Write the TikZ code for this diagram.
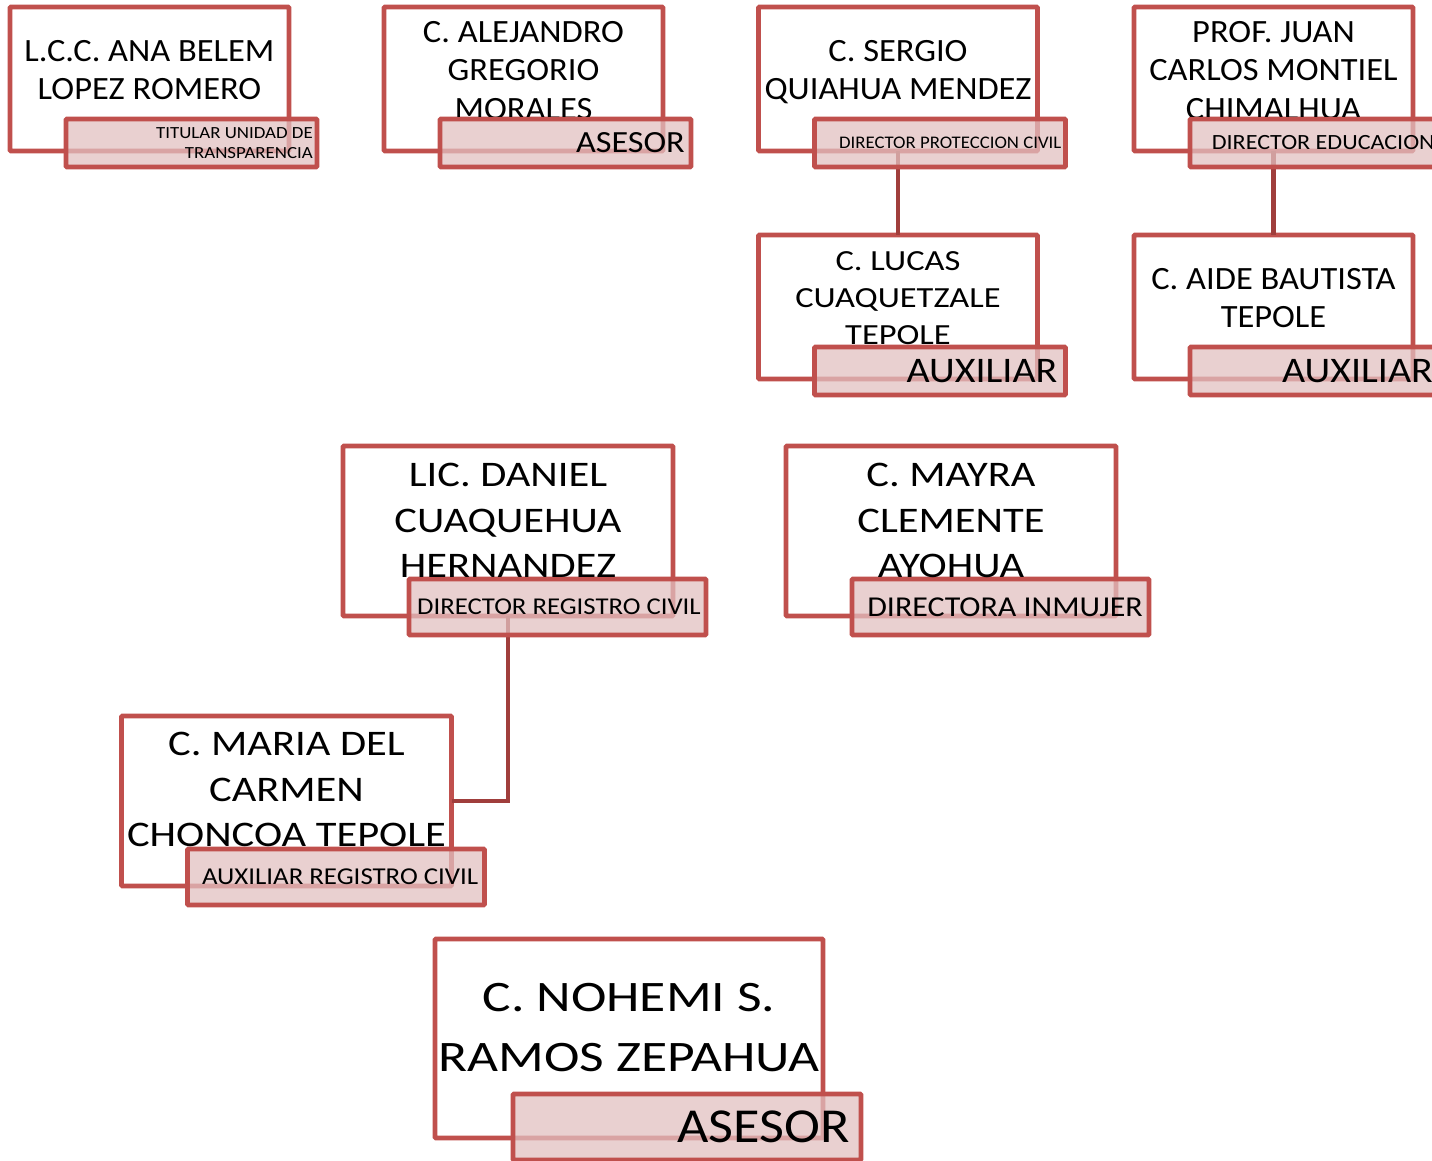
\documentclass[tikz,border=0pt]{standalone}
\usepackage{fontspec}
\setmainfont{Carlito}
\newfontfamily\wideA[FakeStretch=1.06]{Carlito}
\newfontfamily\wideB[FakeStretch=1.11]{Carlito}
\newfontfamily\wideC[FakeStretch=1.18]{Carlito}
\newfontfamily\wideD[FakeStretch=1.23]{Carlito}
\usetikzlibrary{positioning}

\definecolor{boxred}{RGB}{192,80,77}
\definecolor{linered}{RGB}{160,62,60}
\definecolor{tagfill}{RGB}{226,192,192}

\begin{document}
\begin{tikzpicture}[
    x=1pt, y=-1pt,
    box/.style={rectangle, draw=boxred, line width=4.8pt, rounded corners=1pt,
                outer sep=0pt},
    topbox/.style={box, minimum width=279pt, minimum height=144pt},
    midbox/.style={box, minimum width=330pt, minimum height=170pt},
    bigbox/.style={box, minimum width=388pt, minimum height=199pt},
    tag/.style={rectangle, draw=boxred, line width=4.8pt, rounded corners=1pt,
                fill=tagfill, fill opacity=0.75, inner sep=0pt, outer sep=0pt,
                anchor=south west},
    toptag/.style={tag, minimum width=251pt, minimum height=48pt},
    midtag/.style={tag, minimum width=297pt, minimum height=56pt},
    bigtag/.style={tag, minimum width=348pt, minimum height=66pt},
    tagtext/.style={anchor=east, inner sep=0pt, align=right},
    person/.style={anchor=north, inner sep=0pt, align=center},
    topperson/.style={person, font=\wideA\fontsize{32.5}{38.5}\selectfont},
    midperson/.style={person, font=\wideC\fontsize{36}{45.7}\selectfont},
    link/.style={draw=linered, line width=4.5pt},
  ]
  \useasboundingbox (0,0) rectangle (1432,1161);

  % Boxes
  \node[topbox] (b1) at (149.5,79) {};
  \node[topbox] (b2) at (523.5,79) {};
  \node[topbox] (b3) at (898,79) {};
  \node[topbox] (b4) at (1273.5,79) {};
  \node[topbox] (b5) at (898,307) {};
  \node[topbox] (b6) at (1273.5,307) {};
  \node[midbox] (b7) at (508,531) {};
  \node[midbox] (b8) at (951,531) {};
  \node[midbox] (b9) at (286.5,801) {};
  \node[bigbox] (b10) at (629,1038.5) {};

  % Links
  \draw[link] (b3.south) -- (b5.north);
  \draw[link] (b4.south) -- (b6.north);
  \draw[link] (b7.south) |- (b9.east);

  % Position tags
  \node[toptag] (t1) at ([xshift=56pt, yshift=-16pt]b1.south west) {};
  \node[toptag] (t2) at ([xshift=56pt, yshift=-16pt]b2.south west) {};
  \node[toptag] (t3) at ([xshift=56pt, yshift=-16pt]b3.south west) {};
  \node[toptag] (t4) at ([xshift=56pt, yshift=-16pt]b4.south west) {};
  \node[toptag] (t5) at ([xshift=56pt, yshift=-16pt]b5.south west) {};
  \node[toptag] (t6) at ([xshift=56pt, yshift=-16pt]b6.south west) {};
  \node[midtag] (t7) at ([xshift=66pt, yshift=-19pt]b7.south west) {};
  \node[midtag] (t8) at ([xshift=66pt, yshift=-19pt]b8.south west) {};
  \node[midtag] (t9) at ([xshift=66pt, yshift=-19pt]b9.south west) {};
  \node[bigtag] (t10) at ([xshift=78pt, yshift=-22pt]b10.south west) {};

  \node[tagtext, font=\wideB\fontsize{17}{20.5}\selectfont, left=4pt of t1.east] (l1)
    {TITULAR UNIDAD DE\\TRANSPARENCIA};
  \node[tagtext, font=\wideB\fontsize{30.8}{37}\selectfont, left=6pt of t2.east] (l2) {ASESOR};
  \node[tagtext, font=\wideA\fontsize{17.7}{22}\selectfont, left=4pt of t3.east] (l3)
    {DIRECTOR PROTECCION CIVIL};
  \node[tagtext, font=\wideB\fontsize{21.7}{26}\selectfont, left=6pt of t4.east] (l4)
    {DIRECTOR EDUCACION};
  \node[tagtext, font=\wideB\fontsize{36}{43}\selectfont, left=8pt of t5.east] (l5) {AUXILIAR};
  \node[tagtext, font=\wideB\fontsize{36}{43}\selectfont, left=8pt of t6.east] (l6) {AUXILIAR};
  \node[tagtext, font=\wideB\fontsize{24.1}{29}\selectfont, left=5pt of t7.east] (l7)
    {DIRECTOR REGISTRO CIVIL};
  \node[tagtext, font=\wideB\fontsize{28.8}{35}\selectfont, left=6pt of t8.east] (l8)
    {DIRECTORA INMUJER};
  \node[tagtext, font=\wideB\fontsize{24.2}{29}\selectfont, left=6pt of t9.east] (l9)
    {AUXILIAR REGISTRO CIVIL};
  \node[tagtext, font=\wideB\fontsize{48.8}{58}\selectfont, left=11pt of t10.east] (l10) {ASESOR};

  % Names, cut at the top of their tag
  \begin{scope}
    \clip (b1.north west) rectangle ([yshift=2pt]b1.east |- t1.north);
    \node[topperson, below=33pt of b1.north] (n1) {L.C.C. ANA BELEM\\LOPEZ ROMERO};
  \end{scope}
  \begin{scope}
    \clip (b2.north west) rectangle ([yshift=2pt]b2.east |- t2.north);
    \node[topperson, below=14pt of b2.north] (n2) {C. ALEJANDRO\\GREGORIO\\MORALES};
  \end{scope}
  \begin{scope}
    \clip (b3.north west) rectangle ([yshift=2pt]b3.east |- t3.north);
    \node[topperson, below=33pt of b3.north] (n3) {C. SERGIO\\QUIAHUA MENDEZ};
  \end{scope}
  \begin{scope}
    \clip (b4.north west) rectangle ([yshift=2pt]b4.east |- t4.north);
    \node[topperson, below=14pt of b4.north] (n4) {PROF. JUAN\\CARLOS MONTIEL\\CHIMALHUA};
  \end{scope}
  \begin{scope}
    \clip (b5.north west) rectangle ([yshift=2pt]b5.east |- t5.north);
    \node[person, font=\wideC\fontsize{29.2}{37}\selectfont, below=16pt of b5.north] (n5)
      {C. LUCAS\\CUAQUETZALE\\TEPOLE};
  \end{scope}
  \begin{scope}
    \clip (b6.north west) rectangle ([yshift=2pt]b6.east |- t6.north);
    \node[topperson, below=33pt of b6.north] (n6) {C. AIDE BAUTISTA\\TEPOLE};
  \end{scope}
  \begin{scope}
    \clip (b7.north west) rectangle ([yshift=2pt]b7.east |- t7.north);
    \node[midperson, below=17pt of b7.north] (n7) {LIC. DANIEL\\CUAQUEHUA\\HERNANDEZ};
  \end{scope}
  \begin{scope}
    \clip (b8.north west) rectangle ([yshift=2pt]b8.east |- t8.north);
    \node[midperson, below=17pt of b8.north] (n8) {C. MAYRA\\CLEMENTE\\AYOHUA};
  \end{scope}
  \begin{scope}
    \clip (b9.north west) rectangle ([yshift=2pt]b9.east |- t9.north);
    \node[midperson, below=16pt of b9.north] (n9) {C. MARIA DEL\\CARMEN\\CHONCOA TEPOLE};
  \end{scope}
  \node[person, font=\wideD\fontsize{43.5}{60}\selectfont, below=44pt of b10.north] (n10)
    {C. NOHEMI S.\\RAMOS ZEPAHUA};
\end{tikzpicture}
\end{document}
